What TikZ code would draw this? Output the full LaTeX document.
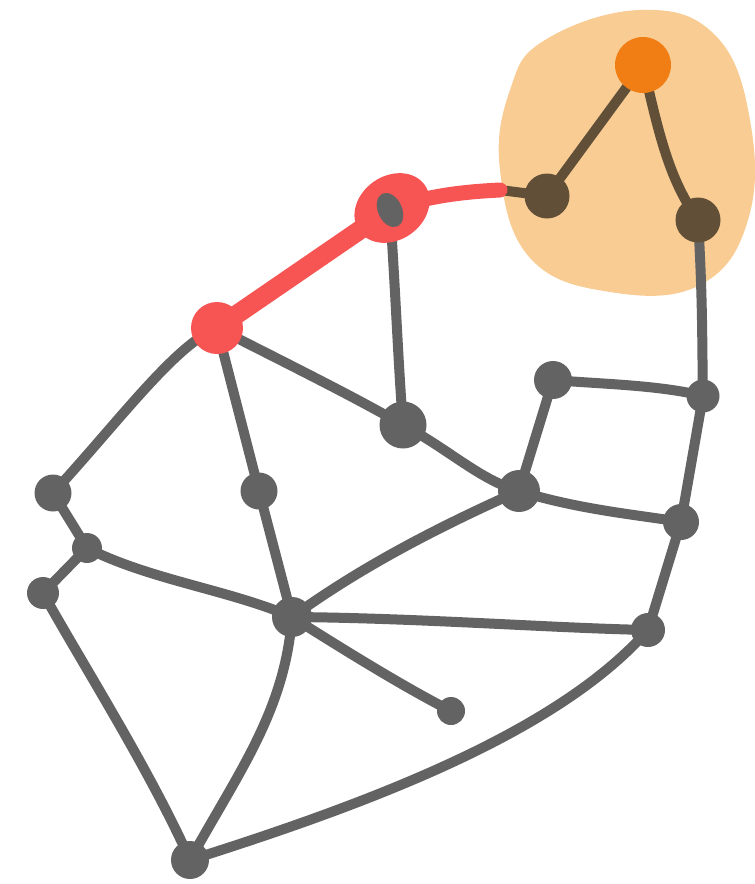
\documentclass[tikz,border=0pt]{standalone}
\usetikzlibrary{backgrounds,shapes.geometric}
\definecolor{gr}{HTML}{636363}
\definecolor{br}{HTML}{614F37}
\definecolor{og}{HTML}{F07E14}
\definecolor{bl}{HTML}{F9CC93}
\definecolor{rd}{HTML}{F75454}
\tikzset{
  gnode/.style={circle,fill=gr,inner sep=0pt,minimum size=#1},
  bnode/.style={circle,fill=br,inner sep=0pt,minimum size=#1},
  edge/.style={draw=gr,line width=10pt,line cap=round,line join=round},
  bedge/.style={draw=br,line width=10pt,line cap=round,line join=round},
  redge/.style={draw=rd,line width=#1,line cap=round,line join=round},
}
\begin{document}
\begin{tikzpicture}[x=1pt,y=-1pt]
\useasboundingbox (0,0) rectangle (755,884);
% nodes
\node[circle,fill=og,inner sep=0pt,minimum size=56pt] (o) at (643,65) {};
\node[bnode=45pt] (a) at (547,196) {};
\node[bnode=45pt] (b) at (698,220) {};
\node[ellipse,fill=rd,inner sep=0pt,minimum width=80pt,minimum height=64pt,rotate=35] (r1) at (392,208) {};
\node[ellipse,fill=gr,inner sep=0pt,minimum width=24pt,minimum height=36pt,rotate=25] (r1i) at (390,210) {};
\node[circle,fill=rd,inner sep=0pt,minimum size=52pt] (r2) at (217,328) {};
\node[gnode=38pt] (n1) at (553,380) {};
\node[gnode=33pt] (n2) at (703,396) {};
\node[gnode=47pt] (n3) at (403,425) {};
\node[gnode=42pt] (n4) at (519,491) {};
\node[gnode=36pt] (n5) at (681,522) {};
\node[gnode=37pt] (n6) at (259,491) {};
\node[gnode=37pt] (n7) at (53,493) {};
\node[gnode=30pt] (n8) at (87,548) {};
\node[gnode=32pt] (n9) at (43,593) {};
\node[gnode=40pt] (n10) at (292,617) {};
\node[gnode=34pt] (n11) at (648,630) {};
\node[gnode=28pt] (n12) at (451,711) {};
\node[gnode=38pt] (n13) at (190,860) {};
\coordinate (rj) at (500,190);
\begin{scope}[on background layer]
  \fill[bl] plot[smooth cycle,tension=0.7] coordinates {(545,40) (640,10) (715,35) (750,120) (748,220) (700,285) (610,292) (530,258) (500,170) (510,90)};
  % brown edges
  \draw[bedge] (o.center) -- (a.center);
  \draw[bedge] (o.center) .. controls (660,140) and (670,180) .. (b.center);
  \draw[bedge] (rj) -- (a.center);
  % red edges
  \draw[redge=19pt] (r1.center) -- (r2.center);
  \draw[redge=15pt] (r1.center) .. controls (430,196) and (460,192) .. (rj);
  % gray edges
  \draw[edge] (r1i.center) .. controls (396,300) and (398,360) .. (n3.center);
  \draw[edge] (b.center) .. controls (703,300) and (702,350) .. (n2.center);
  \draw[edge] (n1.center) .. controls (600,384) and (660,385) .. (n2.center);
  \draw[edge] (n1.center) -- (n4.center);
  \draw[edge] (n2.center) -- (n5.center);
  \draw[edge] (n3.center) .. controls (450,450) and (480,480) .. (n4.center);
  \draw[edge] (r2.center) .. controls (300,370) and (360,400) .. (n3.center);
  \draw[edge] (r2.center) -- (n6.center);
  \draw[edge] (r2.center) .. controls (175,345) and (120,420) .. (n7.center);
  \draw[edge] (n4.center) .. controls (580,510) and (640,515) .. (n5.center);
  \draw[edge] (n4.center) .. controls (420,535) and (350,575) .. (n10.center);
  \draw[edge] (n5.center) -- (n11.center);
  \draw[edge] (n6.center) -- (n10.center);
  \draw[edge] (n7.center) -- (n8.center);
  \draw[edge] (n8.center) -- (n9.center);
  \draw[edge] (n8.center) .. controls (150,580) and (230,590) .. (n10.center);
  \draw[edge] (n10.center) .. controls (420,618) and (550,628) .. (n11.center);
  \draw[edge] (n10.center) .. controls (360,660) and (410,690) .. (n12.center);
  \draw[edge] (n10.center) .. controls (285,710) and (240,770) .. (n13.center);
  \draw[edge] (n9.center) .. controls (80,660) and (150,770) .. (n13.center);
  \draw[edge] (n11.center) .. controls (560,730) and (380,800) .. (n13.center);
\end{scope}
\end{tikzpicture}
\end{document}
